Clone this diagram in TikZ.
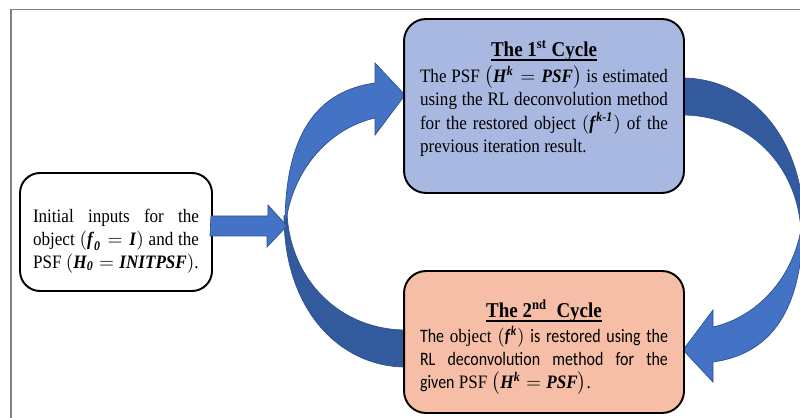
\documentclass[tikz,border=0pt]{standalone}
\usepackage{amsmath,amssymb}
\usepackage{fontspec}
\setmainfont{Liberation Serif}[FakeStretch=0.9]
\newfontfamily\calfont{Carlito}[FakeStretch=0.84]
\usetikzlibrary{positioning,calc}
\definecolor{arrowblue}{HTML}{4472C4}
\definecolor{arrowdark}{HTML}{335A9C}
\definecolor{arrowedge}{HTML}{2F528F}
\definecolor{cycleblue}{HTML}{A9B8E0}
\definecolor{cyclesalmon}{HTML}{F6BEA6}
\definecolor{framegray}{HTML}{808080}
\newcommand\titlefont{\fontsize{12}{14}\selectfont\bfseries}
\newcommand\bv[1]{\textbf{\textit{#1}}}
\newcommand\fullline[1]{\makebox[\linewidth][s]{#1}}
\newcommand\cycletitle[1]{{\centering\titlefont\setbox0\hbox{#1}\leavevmode\rlap{\rule[-2.7pt]{\wd0}{1.1pt}}\box0\par}}
\tikzset{
    every node/.style={font=\fontsize{10.8}{13}\selectfont},
    pageframe/.style={draw=framegray,line width=1.1pt},
    inputbox/.style={rounded corners=0.4cm,draw=black,line width=1.1pt,fill=white,inner xsep=0.26cm,inner ysep=0.2cm},
    cyclebox/.style={rounded corners=0.44cm,draw=black,line width=1.1pt,fill=cycleblue,inner xsep=0.32cm,inner ysep=0.44cm},
    blockarrow/.style={fill=arrowblue,draw=arrowedge,line width=0.4pt},
    backband/.style={fill=arrowdark,draw=arrowedge,line width=0.4pt},
    halfloop/.pic={
        \draw[backband] (284,216) .. controls (284,310) and (340,367) .. (406,367) -- (406,330) .. controls (340,330) and (290,280) .. (287,213) -- cycle;
        \draw[blockarrow] (285,230) .. controls (284,145) and (310,92) .. (375,83) -- (375,63) -- (405,95) -- (375,135) -- (375,118) .. controls (330,128) and (290,170) .. (285,230) -- cycle;
    }
}
\begin{document}
\begin{tikzpicture}[x=0.02cm,y=-0.02cm]
\useasboundingbox (0,0) rectangle (800,418);
\clip (0,0) rectangle (800,418);
\draw[pageframe] (11,9.5) rectangle (830,440);
\node[inputbox] (init) at (116,232) {\parbox[c][1.96cm][t]{3.32cm}{\vspace*{0.52cm}%
\fullline{Initial inputs for the}\\
\fullline{object $(\bv{f}_{\bv{0}} = \bv{I})$ and the}\\
\mbox{PSF $(\bv{H}_{\bv{0}} = \bv{INITPSF})$.}}};
\coordinate (cusp) at (287,226);
\pic at (0,0) {halfloop};
\pic[rotate=180] at (1088,445) {halfloop};
\draw[blockarrow] (init.east |- cusp) ++(-2,-10) -- ++(57,0) -- ++(0,-11) -- (cusp) -- ++(-20,21) -- ++(0,-11) -- ++(-57,0) -- cycle;
\node[cyclebox] (first) at (544,106) {\parbox[c][2.6cm][t]{4.96cm}{\fontsize{10.8}{13.3}\selectfont
\cycletitle{The 1\textsuperscript{st} Cycle}
\vspace{1.4pt}
\fullline{The PSF $\big(\bv{H}^{\bv{k}} = \bv{PSF}\big)$ is estimated}\\
\fullline{using the RL deconvolution method}\\
\fullline{for the restored object $(\bv{f}^{\bv{k-1}})$ of the}\\
previous iteration result.}};
\node[cyclebox,fill=cyclesalmon,inner ysep=0.58cm] (second) at (544,342) {\parbox[c][1.68cm][t]{4.96cm}{\fontsize{10.8}{13}\selectfont
\cycletitle{The 2\textsuperscript{nd}\ \ Cycle}
\vspace{1.4pt}
\fullline{\calfont The {\rmfamily object} $(\bv{f}^{\bv{k}})$ is restored using the}\\
\fullline{\calfont RL deconvolution method for the}\\
{\calfont given} PSF $\big(\bv{H}^{\bv{k}} = \bv{PSF}\big)$.}};
\end{tikzpicture}
\end{document}
